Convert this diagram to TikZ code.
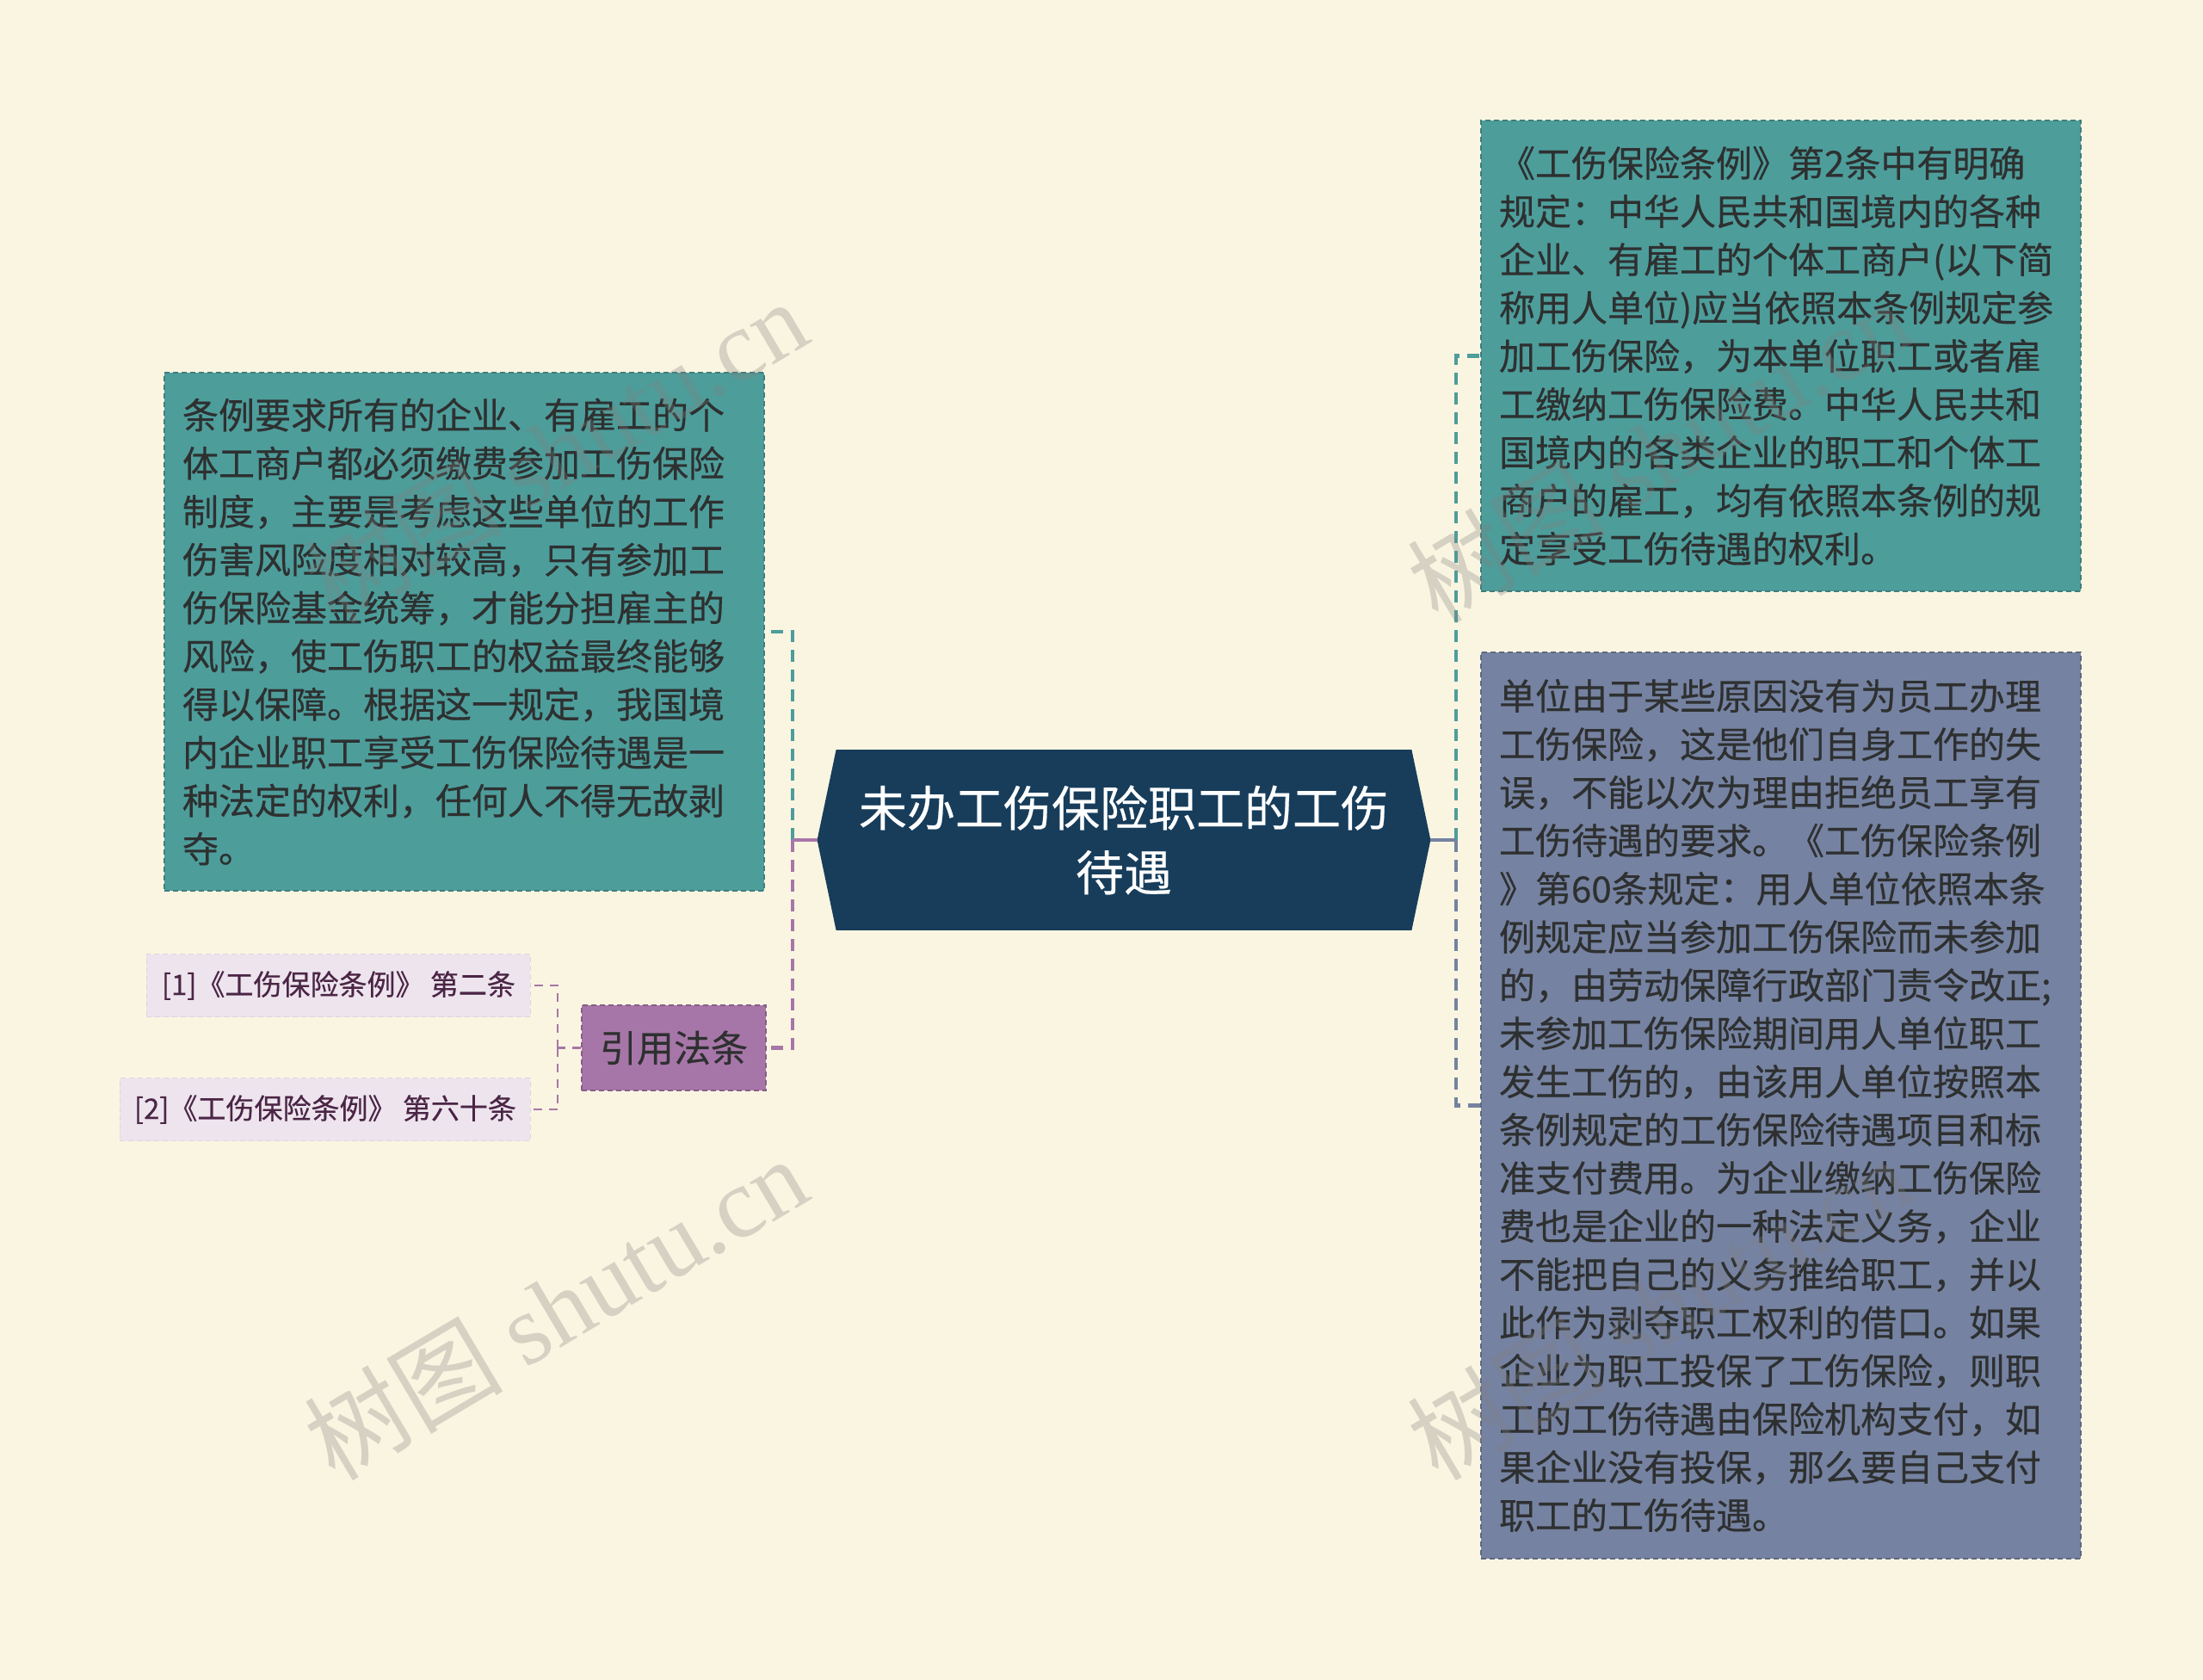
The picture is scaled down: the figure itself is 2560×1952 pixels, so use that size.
\documentclass[tikz,border=0pt]{standalone}
\usepackage{fontspec}
\setmainfont{Noto Sans CJK SC}[FakeBold=0.4]
\newfontfamily\wmserif{Liberation Serif}
\newfontfamily\wmcjk{Noto Sans CJK SC}
\usetikzlibrary{backgrounds}
\definecolor{bgcream}{RGB}{250,245,225}
\definecolor{tealbox}{RGB}{77,157,155}
\definecolor{slatebox}{RGB}{117,130,161}
\definecolor{navyhub}{RGB}{23,61,91}
\definecolor{purplebox}{RGB}{167,118,168}
\definecolor{refbox}{RGB}{237,228,238}
\definecolor{boxtext}{RGB}{46,48,48}
\definecolor{reftext}{RGB}{75,37,69}
\tikzset{
  infobox/.style={rectangle, text=boxtext, align=left, inner xsep=10.5pt, inner ysep=0pt,
    text width=327.5pt, font=\fontsize{21pt}{28pt}\selectfont,
    dash pattern=on 3pt off 2pt, line width=0.8pt},
  tealbg/.style={infobox, fill=tealbox, draw=tealbox!80!black},
  slatebg/.style={infobox, fill=slatebox, draw=slatebox!80!black},
  citebox/.style={rectangle, fill=purplebox, draw=purplebox!80!black, dash pattern=on 3pt off 2pt,
    line width=0.8pt, text=boxtext, font=\fontsize{21.5pt}{26pt}\selectfont,
    minimum width=107pt, minimum height=49.5pt, inner sep=0pt},
  refnode/.style={rectangle, fill=refbox, draw=refbox!85!gray, dash pattern=on 3pt off 2pt,
    line width=0.6pt, text=reftext, font=\fontsize{16.5pt}{20pt}\selectfont,
    inner xsep=4.5pt, minimum height=36.5pt, anchor=east},
  hubtext/.style={rectangle, text=white, align=center, font=\fontsize{28pt}{37.5pt}\selectfont,
    minimum width=356pt, minimum height=104.5pt, inner sep=0pt},
  tealdash/.style={draw=tealbox, line width=2.2pt, dash pattern=on 7pt off 4.5pt},
  purpledash/.style={draw=purplebox, line width=2.2pt, dash pattern=on 7pt off 4.5pt},
  slatedash/.style={draw=slatebox, line width=2.2pt, dash pattern=on 7pt off 4.5pt},
  refdash/.style={draw=purplebox, line width=1.4pt, dash pattern=on 5pt off 4pt},
  solidlink/.style={line width=2.2pt},
  watermark/.style={text=gray, opacity=0.3, rotate=30.7, font=\fontsize{58pt}{60pt}\selectfont}
}
\begin{document}
\begin{tikzpicture}[x=0.5pt, y=-0.5pt]
\useasboundingbox (0,0) rectangle (2560,1952);

% hub (hexagon)
\node[hubtext] (hub) at (1306,976) {未办工伤保险职工的工伤\\待遇};
\begin{scope}[on background layer]
\fill[bgcream] (0,0) rectangle (2560,1952);
\fill[navyhub] (hub.west) -- ([xshift=11pt]hub.north west) -- ([xshift=-11pt]hub.north east)
  -- (hub.east) -- ([xshift=-11pt]hub.south east) -- ([xshift=11pt]hub.south west) -- cycle;
\end{scope}

% left information box
\node[tealbg, minimum height=301pt] (left) at (539.5,734) {条例要求所有的企业、有雇工的个\\体工商户都必须缴费参加工伤保险\\制度，主要是考虑这些单位的工作\\伤害风险度相对较高，只有参加工\\伤保险基金统筹，才能分担雇主的\\风险，使工伤职工的权益最终能够\\得以保障。根据这一规定，我国境\\内企业职工享受工伤保险待遇是一\\种法定的权利，任何人不得无故剥\\夺。};

% right top box
\node[tealbg, minimum height=273.5pt] (rtop) at (2069.5,413.5) {《工伤保险条例》第2条中有明确\\规定：中华人民共和国境内的各种\\企业、有雇工的个体工商户(以下简\\称用人单位)应当依照本条例规定参\\加工伤保险，为本单位职工或者雇\\工缴纳工伤保险费。中华人民共和\\国境内的各类企业的职工和个体工\\商户的雇工，均有依照本条例的规\\定享受工伤待遇的权利。};

% right bottom box
\node[slatebg, minimum height=526.5pt] (rbot) at (2069.5,1284.5) {单位由于某些原因没有为员工办理\\工伤保险，这是他们自身工作的失\\误，不能以次为理由拒绝员工享有\\工伤待遇的要求。《工伤保险条例\\》第60条规定：用人单位依照本条\\例规定应当参加工伤保险而未参加\\的，由劳动保障行政部门责令改正;\\未参加工伤保险期间用人单位职工\\发生工伤的，由该用人单位按照本\\条例规定的工伤保险待遇项目和标\\准支付费用。为企业缴纳工伤保险\\费也是企业的一种法定义务，企业\\不能把自己的义务推给职工，并以\\此作为剥夺职工权利的借口。如果\\企业为职工投保了工伤保险，则职\\工的工伤待遇由保险机构支付，如\\果企业没有投保，那么要自己支付\\职工的工伤待遇。};

% citation node and references
\node[citebox] (cite) at (783,1217.5) {引用法条};
\node[refnode, minimum width=223pt] (ref1) at (617,1145) {[1]《工伤保险条例》 第二条};
\node[refnode, minimum width=238.5pt] (ref2) at (617,1289) {[2]《工伤保险条例》 第六十条};

% junction points
\coordinate (jl) at (921,976);
\coordinate (jr) at (1692,976);
\coordinate (jc) at (648,1217.5);

% connectors left
\draw[tealdash] (jl) |- (left.east);
\draw[purpledash] (jl) |- (cite.east);
\draw[purplebox, solidlink] (hub.west) -- (jl);
% connectors right
\draw[tealdash] (jr) |- (rtop.west);
\draw[slatedash] (jr) |- (rbot.west);
\draw[slatebox, solidlink] (hub.east) -- (jr);
% reference connectors
\draw[refdash] (cite.west) -- (jc);
\draw[refdash] (jc) |- (ref1.east);
\draw[refdash] (jc) |- (ref2.east);

% watermarks
\node[watermark] (wm1) at (645,523) {{\wmcjk 树图} {\wmserif shutu.cn}};
\node[watermark] (wm2) at (645,1519) {{\wmcjk 树图} {\wmserif shutu.cn}};
\node[watermark] (wm3) at (1927,523) {{\wmcjk 树图} {\wmserif shutu.cn}};
\node[watermark] (wm4) at (1927,1519) {{\wmcjk 树图} {\wmserif shutu.cn}};
\end{tikzpicture}
\end{document}
